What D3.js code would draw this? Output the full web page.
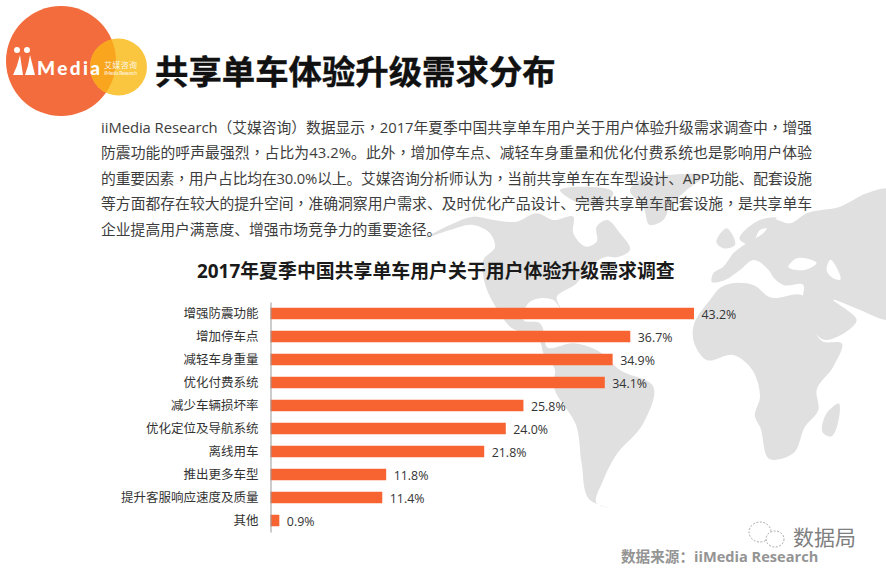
<!DOCTYPE html>
<html><head><meta charset="utf-8">
<script src="https://cdn.jsdelivr.net/npm/d3@7/dist/d3.min.js"></script>
<style>html,body{margin:0;padding:0;background:#fff}svg{display:block}</style></head>
<body><div id="c"></div>
<script>
const categories=["增强防震功能","增加停车点","减轻车身重量","优化付费系统","减少车辆损坏率","优化定位及导航系统","离线用车","推出更多车型","提升客服响应速度及质量","其他"];
const values=[43.2,36.7,34.9,34.1,25.8,24.0,21.8,11.8,11.4,0.9];
const paragraph=[
"iiMedia  Research（艾媒咨询）数据显示，2017年夏季中国共享单车用户关于用户体验升级需求调查中，增强",
"防震功能的呼声最强烈，占比为43.2%。此外，增加停车点、减轻车身重量和优化付费系统也是影响用户体验",
"的重要因素，用户占比均在30.0%以上。艾媒咨询分析师认为，当前共享单车在车型设计、APP功能、配套设施",
"等方面都存在较大的提升空间，准确洞察用户需求、及时优化产品设计、完善共享单车配套设施，是共享单车",
"企业提高用户满意度、增强市场竞争力的重要途径。"];
const FONT='"Open Sans","Noto Sans CJK SC",sans-serif';
const svg=d3.select("#c").append("svg").attr("width",886).attr("height",576).style("font-family",FONT);
svg.append("rect").attr("width",886).attr("height",576).attr("fill","#fff");

// background world map (decoration, hand-traced outlines)
const land=[
// North America
[[-45,205],[30,165],[100,140],[160,150],[230,155],[290,130],[340,150],[400,140],[400,190],[440,230],[470,215],[470,170],[500,150],[540,190],[570,240],[530,262],[500,260],[440,300],[410,340],[350,385],[362,415],[340,390],[270,395],[250,430],[250,450],[300,460],[310,480],[270,490],[210,470],[180,430],[150,380],[130,320],[130,270],[165,230],[150,190],[100,165],[30,180]],
// Arctic islands
[[360,60],[430,50],[520,70],[500,100],[420,100]],
// Greenland
[[630,165],[610,110],[570,60],[600,30],[680,15],[790,20],[740,60],[690,110],[670,150]],
// South America and isthmus
[[270,490],[310,500],[320,530],[400,520],[470,540],[540,600],[640,650],[610,760],[525,860],[490,930],[470,1000],[515,1015],[450,990],[425,880],[410,770],[340,640],[345,600],[310,550],[300,515]],
// Eurasia
[[820,310],[815,335],[850,332],[900,300],[940,270],[990,305],[1000,322],[1030,345],[1090,345],[1088,392],[1155,510],[1250,450],[1180,390],[1260,420],[1338,450],[1338,55],[1280,70],[1200,110],[1100,130],[1050,160],[1000,150],[970,190],[920,220],[880,250],[850,290]],
// Scandinavia
[[900,210],[960,150],[1010,145],[990,170],[960,180],[935,225]],
// Britain
[[830,220],[860,175],[885,225],[850,235]],
// Africa
[[760,510],[760,470],[810,390],[845,350],[940,345],[990,382],[1085,375],[1150,515],[1205,520],[1180,590],[1130,660],[1135,720],[1095,770],[1060,850],[990,868],[960,770],[945,740],[960,680],[930,590],[880,555],[800,570]],
// Madagascar
[[1195,700],[1170,800],[1150,790],[1160,730]]
];
const seas=[
[[1045,290],[1070,265],[1130,280],[1095,300]],
[[1170,270],[1200,330],[1180,325],[1160,300]]
];
const line=d3.line().curve(d3.curveCatmullRomClosed.alpha(0.9));
const map=svg.append("g").attr("transform","translate(440,170) scale(0.3333)");
map.selectAll(".land").data(land).join("path").attr("class","land").attr("d",line).attr("fill","#e0e0e0");
map.selectAll(".sea").data(seas).join("path").attr("class","sea").attr("d",line).attr("fill","#fff");

// logo
svg.append("circle").attr("cx",61).attr("cy",61).attr("r",55).attr("fill","#f26c3d");
svg.append("circle").attr("cx",118.5).attr("cy",67).attr("r",28.5).attr("fill","#fbc63f");
svg.append("clipPath").attr("id","lg").append("circle").attr("cx",61).attr("cy",61).attr("r",55);
svg.append("circle").attr("cx",118.5).attr("cy",67).attr("r",28.5).attr("fill","#f9a51e").attr("clip-path","url(#lg)");
const logoI=svg.append("g").attr("fill","#fff");
[[17,13,23,20],[27,25,35,30]].forEach(([dx,a,b,t])=>{
  logoI.append("circle").attr("cx",dx).attr("cy",50).attr("r",3);
  logoI.append("path").attr("d",`M${a},75L${b},75L${t},55Q${(a+t)/2+1},66 ${a},75Z`);
});
svg.append("text").attr("x",37).attr("y",75).attr("font-family","Lato,sans-serif").attr("font-weight",900).attr("font-size",19).attr("textLength",63).attr("fill","#fff").text("Media");
svg.append("text").attr("x",104).attr("y",68).attr("font-size",8).attr("textLength",33).attr("fill","#fff").attr("opacity",.85).text("艾媒咨询");
svg.append("text").attr("x",104).attr("y",75).attr("font-family","Lato,sans-serif").attr("font-size",5).attr("textLength",33).attr("fill","#fff").attr("opacity",.85).text("iiMedia Research");

// title
svg.append("text").attr("x",155).attr("y",84).attr("font-size",33.4).attr("font-weight",700).attr("fill","#111").attr("stroke","#111").attr("stroke-width",.4).text("共享单车体验升级需求分布");

// paragraph; commas are centred in their cell as in the source
const para=svg.append("g").attr("font-size",14.8).attr("fill","#3d3d3d");
paragraph.forEach((t,i)=>{
  const el=para.append("text").attr("x",101).attr("y",133+i*25.4);
  if(i<4) el.attr("textLength",711).attr("lengthAdjust","spacing");
  t.split(/([，（）])/).filter(s=>s).forEach(s=>{
    const ts=el.append("tspan").text(s);
    if(s==="，") ts.style("font-family",'"Noto Sans CJK TC"');
  });
});

// chart title
svg.append("text").attr("x",197).attr("y",278).attr("font-size",18.9).attr("font-weight",700).attr("fill","#1a1a1a").text("2017年夏季中国共享单车用户关于用户体验升级需求调查");

// chart
const x=d3.scaleLinear().domain([0,43.2]).range([270.5,694]);
const y=d3.scaleBand().domain(categories).range([302,532]).paddingInner(0.5).paddingOuter(0.25);
svg.append("g").selectAll("rect").data(values).join("rect")
 .attr("x",x(0)).attr("y",(d,i)=>y(categories[i])).attr("width",d=>x(d)-x(0)).attr("height",y.bandwidth()).attr("fill","#f76331");
const axis=d3.axisLeft(y).tickSize(0).tickPadding(12);
const ga=svg.append("g").attr("transform",`translate(${x(0)},0)`).call(axis);
ga.select(".domain").attr("stroke","#999");
ga.selectAll("text").attr("font-size",12.5).attr("font-family",FONT).attr("fill","#333");
svg.append("g").selectAll("text").data(values).join("text")
 .attr("x",d=>x(d)+7.5).attr("y",(d,i)=>y(categories[i])+y.bandwidth()/2+5)
 .attr("font-size",12.4).attr("fill","#333").text(d=>d.toFixed(1)+"%");

// source + watermark
svg.append("text").attr("x",621).attr("y",561.5).attr("font-size",14.6).attr("font-weight",700).attr("fill","#949494").text("数据来源：iiMedia Research");
svg.append("text").attr("x",793).attr("y",545).attr("font-size",21).attr("fill","#808080").text("数据局");
const w=svg.append("g").attr("fill","#fff").attr("stroke","#aaa").attr("stroke-width",1).attr("stroke-dasharray","2 1.5");
w.append("ellipse").attr("cx",760).attr("cy",532).attr("rx",11).attr("ry",10);
w.append("ellipse").attr("cx",775).attr("cy",539).attr("rx",9).attr("ry",8);
</script></body></html>
